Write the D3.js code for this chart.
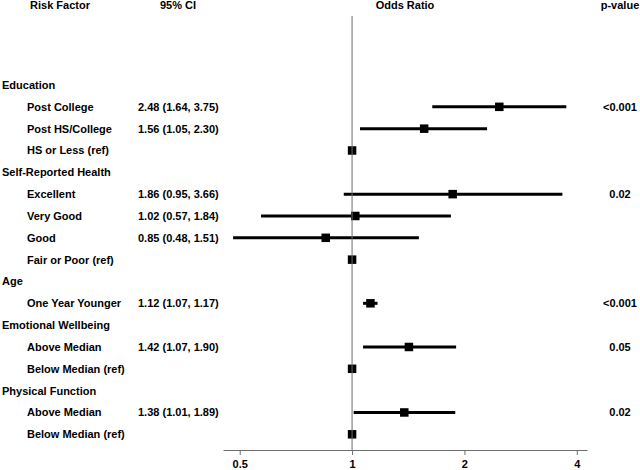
<!DOCTYPE html>
<html><head><meta charset="utf-8">
<script src="https://cdn.jsdelivr.net/npm/d3@7"></script>
<style>body{margin:0;background:#fff}svg{display:block}text{font-family:"Liberation Sans",Arial,sans-serif;font-weight:bold;font-size:11px;fill:#000}</style>
</head><body><svg id="c" width="640" height="470"></svg>
<script>
const labels = ["Education","Post College","Post HS/College","HS or Less (ref)","Self-Reported Health","Excellent","Very Good","Good","Fair or Poor (ref)","Age","One Year Younger","Emotional Wellbeing","Above Median","Below Median (ref)","Physical Function","Above Median","Below Median (ref)"];
const isGroup = [1,0,0,0,1,0,0,0,0,1,0,1,0,0,1,0,0];
const oddsRatio = [null,2.48,1.56,1,null,1.86,1.02,0.85,1,null,1.12,null,1.42,1,null,1.38,1];
const ciLow = [null,1.64,1.05,null,null,0.95,0.57,0.48,null,null,1.07,null,1.07,null,null,1.01,null];
const ciHigh = [null,3.75,2.30,null,null,3.66,1.84,1.51,null,null,1.17,null,1.90,null,null,1.89,null];
const ciText = ["","2.48 (1.64, 3.75)","1.56 (1.05, 2.30)","","","1.86 (0.95, 3.66)","1.02 (0.57, 1.84)","0.85 (0.48, 1.51)","","","1.12 (1.07, 1.17)","","1.42 (1.07, 1.90)","","","1.38 (1.01, 1.89)",""];
const pValues = ["","<0.001","","","","0.02","","","","","<0.001","","0.05","","","0.02",""];
const headers = ["Risk Factor","95% CI","Odds Ratio","p-value"];
const tickVals = [0.5,1,2,4];

const svg = d3.select("#c");
const x = d3.scaleLog().domain([0.451,4.26]).range([223,587]);
const y = d3.scaleLinear().domain([0,16]).range([85,434.3]);
const axisY = 450;

// headers
const hx = [60,178,405,620];
svg.selectAll("text.h").data(headers).join("text").attr("class","h")
  .attr("x",(d,i)=>hx[i]).attr("y",9).attr("text-anchor","middle").text(d=>d);

// labels
svg.selectAll("text.lab").data(labels).join("text").attr("class","lab")
  .attr("x",(d,i)=>isGroup[i]?2:27).attr("y",(d,i)=>y(i)+4).text(d=>d);
svg.selectAll("text.ci").data(ciText).join("text").attr("class","ci")
  .attr("x",138).attr("y",(d,i)=>y(i)+4).text(d=>d);
svg.selectAll("text.pv").data(pValues).join("text").attr("class","pv")
  .attr("x",620).attr("text-anchor","middle").attr("y",(d,i)=>y(i)+4).text(d=>d);

const rows = oddsRatio.map((v,i)=>({i,v,lo:ciLow[i],hi:ciHigh[i]})).filter(d=>d.v!==null);
svg.selectAll("line.ci").data(rows.filter(d=>d.lo!==null)).join("line").attr("class","ci")
  .attr("x1",d=>x(d.lo)).attr("x2",d=>x(d.hi)).attr("y1",d=>y(d.i)).attr("y2",d=>y(d.i))
  .attr("stroke","#000").attr("stroke-width",3);
const s = 8.5;
svg.selectAll("rect.m").data(rows).join("rect").attr("class","m")
  .attr("x",d=>x(d.v)-s/2).attr("y",d=>y(d.i)-s/2).attr("width",s).attr("height",s).attr("fill","#000");

// reference line
svg.append("line").attr("x1",x(1)).attr("x2",x(1)).attr("y1",16).attr("y2",axisY)
  .attr("stroke","#6e6e6e").attr("stroke-width",1);

// axis
const ax = svg.append("g").attr("transform",`translate(0,${axisY})`)
  .call(d3.axisBottom(x).tickValues(tickVals).tickFormat(d3.format("")).tickSize(5).tickSizeOuter(0));
ax.select(".domain").attr("stroke","#6e6e6e");
ax.selectAll(".tick line").attr("stroke","#6e6e6e");
ax.selectAll(".tick text").attr("y",10).attr("dy","0.71em").style("font-family","Liberation Sans, Arial, sans-serif").style("font-weight","bold").style("font-size","11px").attr("fill","#000");
</script></body></html>
